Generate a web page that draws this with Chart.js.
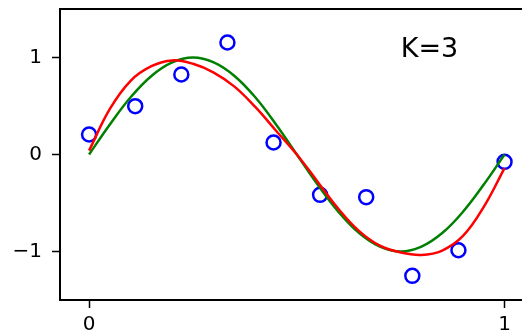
<!DOCTYPE html>
<html>
<head>
<meta charset="utf-8">
<script src="https://cdn.jsdelivr.net/npm/chart.js@4/dist/chart.umd.min.js"></script>
<style>
  html, body { margin: 0; padding: 0; background: #fff; overflow: hidden; }
  canvas { display: block; }
</style>
</head>
<body>
<canvas id="c" width="522" height="334"></canvas>
<script>
// Sample positions along x for the two curves
const curveX = [0, 0.05, 0.1, 0.15, 0.2, 0.25, 0.3, 0.35, 0.4, 0.45, 0.5,
                0.55, 0.6, 0.65, 0.7, 0.75, 0.8, 0.85, 0.9, 0.95, 1.0];
// True underlying curve
const trueY = [0, 0.31, 0.59, 0.81, 0.95, 1.0, 0.95, 0.81, 0.59, 0.31, 0,
               -0.31, -0.59, -0.81, -0.95, -1.0, -0.95, -0.81, -0.59, -0.31, 0];
// Fitted cubic (K=3)
const fitY = [0.04, 0.47, 0.76, 0.91, 0.97, 0.935, 0.845, 0.70, 0.49, 0.245, 0.0,
              -0.28, -0.56, -0.79, -0.94, -1.01, -1.035, -0.99, -0.84, -0.54, -0.14];
// Observed noisy samples
const obsX = [0, 0.111, 0.222, 0.333, 0.444, 0.556, 0.667, 0.778, 0.889, 1.0];
const obsY = [0.206, 0.498, 0.825, 1.155, 0.124, -0.416, -0.44, -1.251, -0.987, -0.076];
// Axis ticks
const xTicks = [0, 1];
const yTicks = [-1, 0, 1];
// Annotation
const annText = 'K=3';
const annX = 0.75;
const annY = 1.08;

const pts = (xs, ys) => xs.map((x, i) => ({ x: x, y: ys[i] }));
const fmt = v => (v < 0 ? '\u2212' + Math.abs(v) : String(v));
const FONT = 'DejaVu Sans';

const frame = {
  id: 'frame',
  afterDatasetsDraw(chart) {
    const { ctx, chartArea, scales } = chart;
    ctx.save();
    ctx.strokeStyle = '#000';
    ctx.lineWidth = 2;
    ctx.beginPath();
    ctx.moveTo(chartArea.left - 1, chartArea.top);
    ctx.lineTo(chartArea.right, chartArea.top);
    ctx.stroke();
    ctx.fillStyle = '#000';
    ctx.font = '27px "' + FONT + '"';
    ctx.textAlign = 'left';
    ctx.textBaseline = 'middle';
    ctx.fillText(annText, scales.x.getPixelForValue(annX), scales.y.getPixelForValue(annY));
    ctx.restore();
  }
};

const tickGrid = { display: true, drawOnChartArea: false, drawTicks: true, tickLength: 8, tickWidth: 1.5, tickColor: '#000' };

new Chart(document.getElementById('c'), {
  type: 'line',
  data: {
    datasets: [
      {
        data: pts(curveX, fitY),
        borderColor: '#ff0000',
        borderWidth: 2.5,
        pointRadius: 0,
        fill: false,
        tension: 0.4
      },
      {
        data: pts(curveX, trueY),
        borderColor: '#008000',
        borderWidth: 2.5,
        pointRadius: 0,
        fill: false,
        tension: 0.4
      },
      {
        data: pts(obsX, obsY),
        showLine: false,
        pointStyle: 'circle',
        pointRadius: 7,
        pointBorderWidth: 2.5,
        pointBorderColor: '#0000ff',
        pointBackgroundColor: 'rgba(0,0,0,0)'
      }
    ]
  },
  options: {
    responsive: false,
    animation: false,
    devicePixelRatio: 1,
    layout: { autoPadding: false, padding: { top: 9, right: 0, left: 0, bottom: 0 } },
    plugins: { legend: { display: false }, tooltip: { enabled: false } },
    scales: {
      x: {
        type: 'linear',
        min: -0.07,
        max: 1.042,
        afterBuildTicks: s => { s.ticks = xTicks.map(v => ({ value: v })); },
        afterFit: s => { s.height = 34; s.paddingLeft = 0; s.paddingRight = 0; },
        ticks: { color: '#000', font: { family: FONT, size: 20 }, padding: 5, maxRotation: 0, callback: fmt },
        grid: tickGrid,
        border: { display: true, color: '#000', width: 2 }
      },
      y: {
        type: 'linear',
        min: -1.5,
        max: 1.5,
        afterBuildTicks: s => { s.ticks = yTicks.map(v => ({ value: v })); },
        afterFit: s => { s.width = 60; s.paddingTop = 0; s.paddingBottom = 0; },
        ticks: { color: '#000', font: { family: FONT, size: 20 }, padding: 10, callback: fmt },
        grid: tickGrid,
        border: { display: true, color: '#000', width: 2 }
      }
    }
  },
  plugins: [frame]
});
</script>
</body>
</html>
